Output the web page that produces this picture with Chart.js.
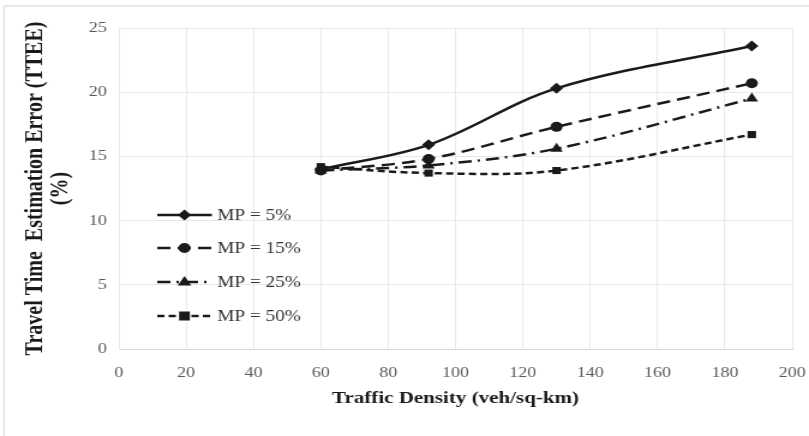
<!DOCTYPE html>
<html>
<head>
<meta charset="utf-8">
<script src="https://cdn.jsdelivr.net/npm/chart.js@4/dist/chart.umd.min.js"></script>
<style>
  html, body { margin: 0; padding: 0; background: #fff; overflow: hidden; }
  #wrap { position: relative; width: 809px; height: 436px; overflow: hidden; }
  #frame { position: absolute; left: 3px; top: 5px; right: 0; bottom: 0;
           border-top: 2px solid #e9e9e9; border-left: 2px solid #e9e9e9; pointer-events: none; }
  /* the figure is drawn on a narrower canvas and widened to the page width */
  canvas { position: absolute; left: 0; top: 0; transform-origin: 0 0; transform: scaleX(1.2003); }
</style>
</head>
<body>
<div id="wrap">
  <canvas id="c" width="674" height="436"></canvas>
  <div id="frame"></div>
</div>
<script>
// Traffic density (veh/sq-km) at which each run was evaluated
const densities = [60, 92, 130, 188];

// TTEE (%) for each market penetration (MP) level
const mp5  = [14.0, 15.9, 20.3, 23.6];
const mp15 = [13.9, 14.8, 17.3, 20.7];
const mp25 = [13.9, 14.3, 15.6, 19.5];
const mp50 = [14.2, 13.7, 13.9, 16.7];

const seriesNames = ['MP = 5%', 'MP = 15%', 'MP = 25%', 'MP = 50%'];

// Axis ranges and tick step
const xRange = [0, 200, 20];
const yRange = [0, 25, 5];

const ink = '#1a1a1a';
const serif = "'Liberation Serif', 'Times New Roman', serif";

function pts(values) {
  return densities.map((d, i) => ({ x: d, y: values[i] }));
}

const styles = [
  { dash: [],            point: 'rectRot',  r: 5.5 },
  { dash: [11, 6],       point: 'circle',   r: 5 },
  { dash: [11, 5, 2, 5], point: 'triangle', r: 6 },
  { dash: [6, 3.5],      point: 'rect',     r: 5 }
];

const datasets = [mp5, mp15, mp25, mp50].map((vals, i) => ({
  label: seriesNames[i],
  data: pts(vals),
  borderColor: ink,
  backgroundColor: ink,
  borderWidth: 2.5,
  borderDash: styles[i].dash,
  pointStyle: styles[i].point,
  pointRadius: styles[i].r,
  pointBorderWidth: 0,
  pointBackgroundColor: ink,
  tension: 0.35,
  fill: false
}));

function marker(ctx, style, x, y, r) {
  ctx.save();
  ctx.setLineDash([]);
  ctx.fillStyle = ink;
  ctx.beginPath();
  if (style === 'rectRot') {
    ctx.moveTo(x, y - r); ctx.lineTo(x + r, y); ctx.lineTo(x, y + r); ctx.lineTo(x - r, y);
  } else if (style === 'circle') {
    ctx.arc(x, y, r, 0, Math.PI * 2);
  } else if (style === 'triangle') {
    ctx.moveTo(x, y - r); ctx.lineTo(x + r * 0.95, y + r * 0.6); ctx.lineTo(x - r * 0.95, y + r * 0.6);
  } else {
    const s = r * 0.9;
    ctx.rect(x - s, y - s, 2 * s, 2 * s);
  }
  ctx.closePath();
  ctx.fill();
  ctx.restore();
}

// Legend drawn inside the plot, each entry shows its line pattern and marker
const insideLegend = {
  id: 'insideLegend',
  afterDatasetsDraw(chart) {
    const ctx = chart.ctx;
    const rows = [215, 248, 282, 316];
    const x0 = 131, x1 = 176.5, xm = 153.7, xt = 181;
    chart.data.datasets.forEach((ds, i) => {
      const y = rows[i];
      ctx.save();
      ctx.strokeStyle = ds.borderColor;
      ctx.lineWidth = ds.borderWidth;
      ctx.setLineDash(ds.borderDash);
      ctx.beginPath();
      ctx.moveTo(x0, y);
      ctx.lineTo(x1, y);
      ctx.stroke();
      ctx.restore();
      marker(ctx, ds.pointStyle, xm, y, ds.pointRadius);
      ctx.save();
      ctx.fillStyle = '#333';
      ctx.font = "16px " + serif;
      ctx.textBaseline = 'middle';
      ctx.fillText(ds.label, xt, y + 1);
      ctx.restore();
    });
  }
};

new Chart(document.getElementById('c'), {
  type: 'line',
  data: { datasets },
  plugins: [insideLegend],
  options: {
    responsive: false,
    animation: false,
    devicePixelRatio: 1,
    layout: { padding: { left: 0, top: 28, right: 14, bottom: 0 } },
    plugins: { legend: { display: false }, tooltip: { enabled: false } },
    scales: {
      x: {
        type: 'linear',
        min: xRange[0], max: xRange[1],
        ticks: { stepSize: xRange[2], padding: 15, color: '#595959', font: { family: serif, size: 15 } },
        grid: { color: '#e8e8e8', lineWidth: 1, drawTicks: false },
        border: { color: '#d9d9d9' },
        title: {
          display: true,
          text: 'Traffic Density (veh/sq-km)',
          color: ink,
          font: { family: serif, size: 17.5, weight: 'bold', lineHeight: 1.2 },
          padding: { top: 27.5, bottom: 27.5 }
        },
        afterFit(scale) {
          scale.height = 87;
          scale.paddingLeft = 0;
          scale.paddingRight = 0;
        }
      },
      y: {
        type: 'linear',
        min: yRange[0], max: yRange[1],
        ticks: { stepSize: yRange[2], padding: 10, color: '#595959', font: { family: serif, size: 15 } },
        grid: { color: '#e8e8e8', lineWidth: 1, drawTicks: false },
        border: { color: '#e8e8e8' },
        title: {
          display: true,
          text: ['Travel Time  Estimation Error (TTEE)', '(%)'],
          color: ink,
          font: { family: serif, size: 20, weight: 'bold', lineHeight: 1.05 },
          padding: { top: 19.5, bottom: 0 }
        },
        afterFit(scale) { scale.width = 99; }
      }
    }
  }
});
</script>
</body>
</html>
